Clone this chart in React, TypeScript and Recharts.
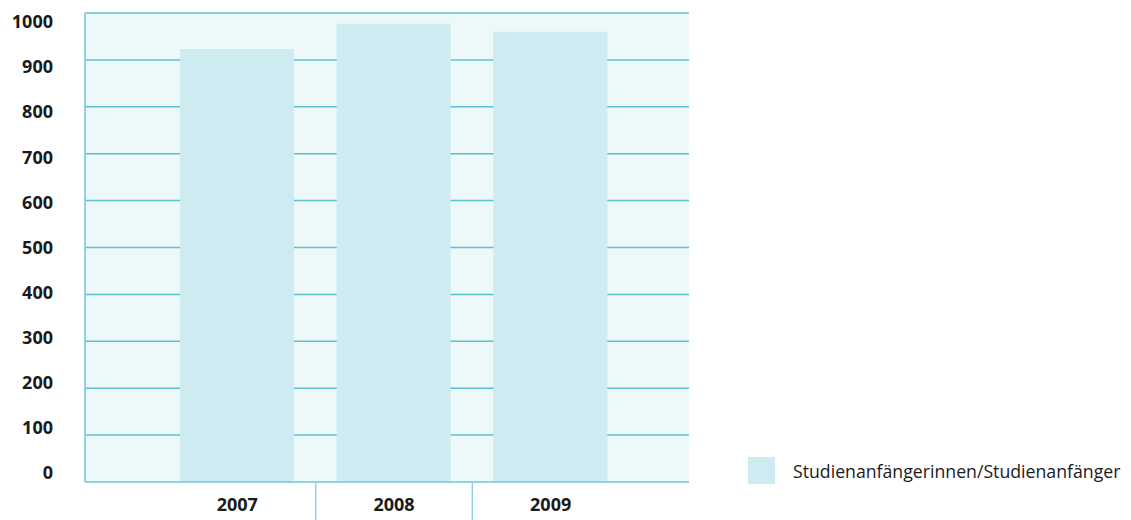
import { Bar, BarChart, CartesianGrid, Legend, XAxis, YAxis } from "recharts";

const YEARS = ["2007", "2008", "2009"];
const STUDIENANFAENGER = [923, 977, 960];
const Y_TICKS = [0, 100, 200, 300, 400, 500, 600, 700, 800, 900, 1000];
const SERIES_NAME = "Studienanfängerinnen/Studienanfänger";

const W = 1131;
const H = 520;
const PLOT_LEFT = 85;
const PLOT_RIGHT = 689;
const PLOT_TOP = 13;
const PLOT_BOTTOM = 482;
const PLOT_MID = (PLOT_TOP + PLOT_BOTTOM) / 2;
const PAD_L = 74;
const PAD_R = 60;
const BAND = (PLOT_RIGHT - PLOT_LEFT - PAD_L - PAD_R) / YEARS.length;

const FONT = "'Open Sans', sans-serif";
const LINE = "#8fd3e0";

const data = YEARS.map((year, i) => ({ year, value: STUDIENANFAENGER[i] }));

// y labels sit a little inside the grid lines, pulled toward the middle
const YTick = (props: any) => {
  const { x, y, payload } = props;
  const shift = (PLOT_MID - y) * 0.038;
  return (
    <text x={x} y={y + shift} dy="0.35em" textAnchor="end" fontFamily={FONT} fontWeight={700} fontSize={18} fill="#1a1a1a">
      {payload.value}
    </text>
  );
};

const XTick = (props: any) => {
  const { x, y, payload, index } = props;
  return (
    <g>
      <text x={x} y={y + 23} dy="0.35em" textAnchor="middle" fontFamily={FONT} fontWeight={700} fontSize={18} fill="#1a1a1a">
        {payload.value}
      </text>
      {index < YEARS.length - 1 && (
        <line x1={x + BAND / 2} x2={x + BAND / 2} y1={y} y2={H} stroke={LINE} strokeWidth={1.5} />
      )}
    </g>
  );
};

const LegendBox = () => (
  <div style={{ display: "flex", alignItems: "center", fontFamily: FONT, fontSize: 17.7, color: "#1a1a1a" }}>
    <span style={{ width: 27, height: 27, background: "#cdebf0", display: "inline-block", marginRight: 18 }} />
    <span>{SERIES_NAME}</span>
  </div>
);

export default function App() {
  return (
    <div style={{ position: "absolute", left: 0, top: 0, background: "#fff" }}>
      <BarChart
        width={W}
        height={H}
        data={data}
        margin={{ top: PLOT_TOP, right: W - PLOT_RIGHT, bottom: 0, left: 0 }}
      >
        <CartesianGrid vertical={false} fill="#edf8f9" stroke="#5cc0d2" strokeWidth={1.5} />
        <XAxis
          dataKey="year"
          height={H - PLOT_BOTTOM}
          padding={{ left: PAD_L, right: PAD_R }}
          axisLine={{ stroke: LINE, strokeWidth: 2 }}
          tickLine={false}
          tickSize={0}
          tickMargin={0}
          tick={<XTick />}
          interval={0}
        />
        <YAxis
          width={PLOT_LEFT}
          domain={[0, 1000]}
          ticks={Y_TICKS}
          axisLine={{ stroke: LINE, strokeWidth: 2 }}
          tickLine={false}
          tickSize={0}
          tickMargin={32}
          tick={<YTick />}
          interval={0}
        />
        <Legend
          layout="vertical"
          align="center"
          verticalAlign="middle"
          wrapperStyle={{ left: 748, top: 457, width: 383 }}
          content={<LegendBox />}
        />
        <Bar dataKey="value" name={SERIES_NAME} fill="#cdebf0" barSize={114} isAnimationActive={false} />
      </BarChart>
    </div>
  );
}
